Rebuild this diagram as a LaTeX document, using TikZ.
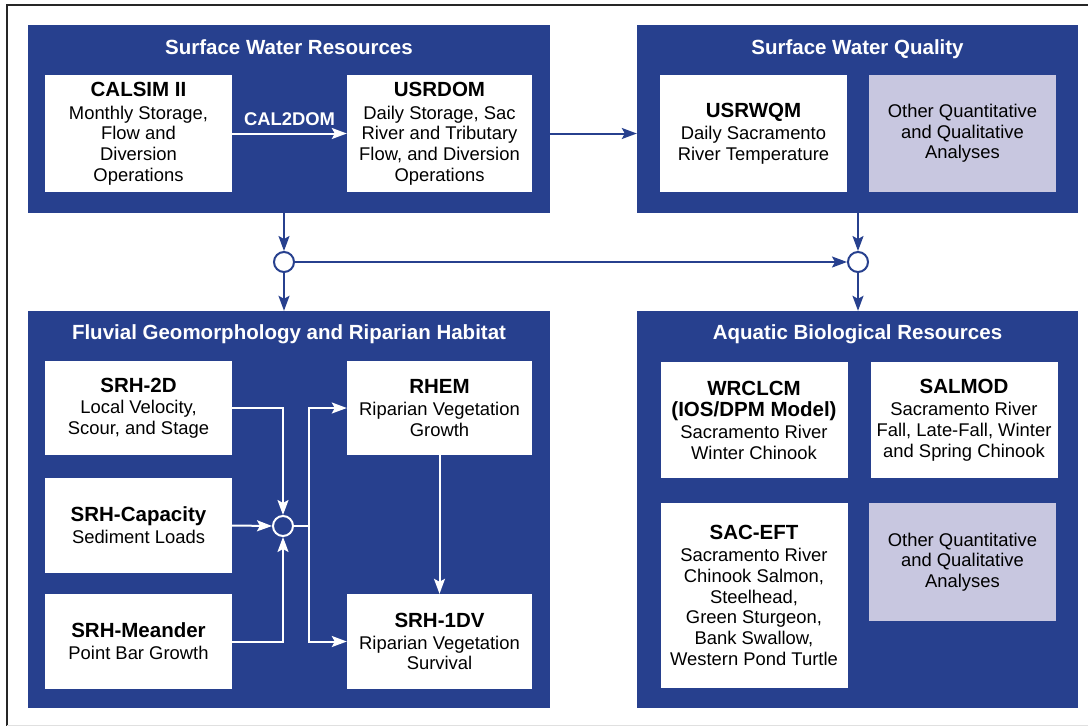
\documentclass[tikz,border=0pt]{standalone}
\usepackage{fontspec}
\setmainfont{Liberation Sans}
\usetikzlibrary{arrows.meta}
\definecolor{panelblue}{RGB}{39,64,142}
\definecolor{otherlilac}{RGB}{200,199,224}
\newcommand{\mname}[1]{{\fontsize{20.5}{21}\selectfont\bfseries #1}}

\begin{document}
\begin{tikzpicture}[x=1pt, y=-1pt, >={Stealth[length=15pt,width=11pt,inset=3pt]},
  panel/.style={fill=panelblue, inner sep=0pt},
  ptitle/.style={text=white, inner sep=0pt, anchor=base, font=\fontsize{20.5}{24}\selectfont\bfseries},
  model/.style={fill=white, inner sep=0pt, align=center, minimum width=187pt, font=\fontsize{18.4}{20.7}\selectfont},
  other/.style={model, fill=otherlilac},
  wline/.style={draw=white, line width=2pt},
  bline/.style={draw=panelblue, line width=2pt},
  hub/.style={circle, minimum size=20pt, inner sep=0pt, line width=2pt}]
\useasboundingbox (0,0) rectangle (1088,726);
\draw[line width=1.5pt, black!85] (7,726) -- (7,5) -- (1088,5);
\draw[line width=0.6pt, black!12] (7,725) -- (1088,725);

\node[panel, minimum width=522pt, minimum height=188pt] (swr) at (289,119) {};
\node[panel, minimum width=441pt, minimum height=188pt] (swq) at (857.5,119) {};
\node[panel, minimum width=522pt, minimum height=397pt] (fgr) at (289,509.5) {};
\node[panel, minimum width=441pt, minimum height=397pt] (abr) at (857.5,509.5) {};

\node[ptitle] (swrt) at ([yshift=-30pt]swr.north) {Surface Water Resources};
\node[ptitle] (swqt) at ([yshift=-30pt]swq.north) {Surface Water Quality};
\node[ptitle] (fgrt) at ([yshift=-29pt]fgr.north) {Fluvial Geomorphology and Riparian Habitat};
\node[ptitle] (abrt) at ([yshift=-29pt]abr.north) {Aquatic Biological Resources};

\node[model, minimum height=117pt] (calsim) at (138.5,133.5) {\mname{CALSIM II}\\[2pt]Monthly Storage,\\Flow and\\Diversion\\Operations};
\node[model, minimum height=117pt, minimum width=185pt] (usrdom) at (439.5,133.5) {\mname{USRDOM}\\[2pt]Daily Storage, Sac\\River and Tributary\\Flow, and Diversion\\Operations};
\node[model, minimum height=117pt] (usrwqm) at (753.5,133.5) {\mname{USRWQM}\\[2pt]Daily Sacramento\\River Temperature};
\node[other, minimum height=117pt] (swqother) at (962.5,133.5) {Other Quantitative\\and Qualitative\\Analyses};

\node[model, minimum height=94pt] (srh2d) at (138.5,408) {\mname{SRH-2D}\\[1pt]Local Velocity,\\Scour, and Stage};
\node[model, minimum height=95pt] (srhcap) at (138.5,525.5) {\mname{SRH-Capacity}\\[1pt]Sediment Loads};
\node[model, minimum height=95pt] (srhmea) at (138.5,641.5) {\mname{SRH-Meander}\\[1pt]Point Bar Growth};
\node[model, minimum height=94pt, minimum width=185pt] (rhem) at (439.5,408) {\mname{RHEM}\\[1pt]Riparian Vegetation\\Growth};
\node[model, minimum height=95pt, minimum width=185pt] (srh1dv) at (439.5,641.5) {\mname{SRH-1DV}\\[1pt]Riparian Vegetation\\Survival};

\node[model, minimum height=116pt] (wrclcm) at (754,420) {\mname{WRCLCM}\\[1pt]\mname{(IOS/DPM Model)}\\[1pt]Sacramento River\\Winter Chinook};
\node[model, minimum height=116pt] (salmod) at (964,420) {\mname{SALMOD}\\[2pt]Sacramento River\\Fall, Late-Fall, Winter\\and Spring Chinook};
\node[model, minimum height=185pt] (saceft) at (754,595.5) {\mname{SAC-EFT}\\[1pt]Sacramento River\\Chinook Salmon,\\Steelhead,\\Green Sturgeon,\\Bank Swallow,\\Western Pond Turtle};
\node[other, minimum height=118pt] (abrother) at (962.5,562) {Other Quantitative\\and Qualitative\\Analyses};

\node[hub, draw=panelblue, fill=white] (c1) at (284,262) {};
\node[hub, draw=panelblue, fill=white] (c2) at (858,262) {};
\node[hub, draw=white, fill=panelblue] (fc) at (283,526) {};
\coordinate (split) at (309,526);

\draw[wline, ->] (calsim) -- node[above=3pt, text=white, font=\fontsize{18.4}{21}\selectfont\bfseries] {CAL2DOM} (usrdom);
\draw[bline, ->] (usrdom.east) -- (usrdom.east -| swq.west);
\draw[bline, ->] (c1 |- swr.south) -- (c1.north);
\draw[bline, ->] (c1.south) -- (c1 |- fgr.north);
\draw[bline, ->] (c2 |- swq.south) -- (c2.north);
\draw[bline, ->] (c2.south) -- (c2 |- abr.north);
\draw[bline, ->] (c1.east) -- (c2.west);

\draw[wline, ->] (srh2d.east) -| (fc.north);
\draw[wline, ->] (srhcap.east) -- (fc.west);
\draw[wline, ->] (srhmea.east) -| (fc.south);
\draw[wline] (fc.east) -- (split);
\draw[wline, ->] (split) |- (rhem.west);
\draw[wline, ->] (split) |- (srh1dv.west);
\draw[wline, ->] (rhem) -- (srh1dv);
\end{tikzpicture}
\end{document}
